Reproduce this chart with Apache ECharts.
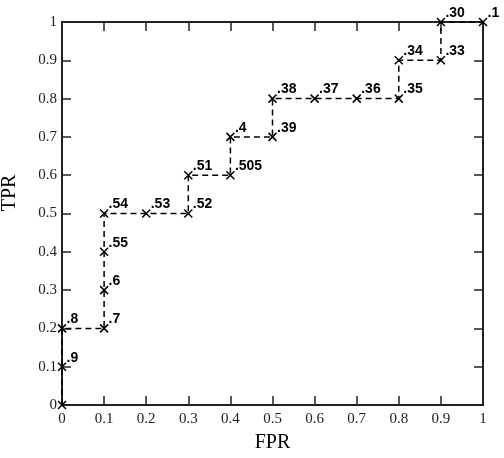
<!DOCTYPE html>
<html lang="en">
<head>
  <meta charset="UTF-8">
  <title>ROC</title>
  <script src="https://cdn.jsdelivr.net/npm/echarts@6/dist/echarts.min.js"></script>
  <style>
    html, body { margin: 0; padding: 0; background: #fff; }
    #chart { width: 504px; height: 458px; }
  </style>
</head>
<body>
  <div id="chart"></div>
  <script>
    // FPR / TPR points and their threshold labels
    const fpr = [0, 0, 0, 0.1, 0.1, 0.1, 0.1, 0.2, 0.3, 0.3, 0.4, 0.4, 0.5, 0.5, 0.6, 0.7, 0.8, 0.8, 0.9, 0.9, 1]
    const tpr = [0, 0.1, 0.2, 0.2, 0.3, 0.4, 0.5, 0.5, 0.5, 0.6, 0.6, 0.7, 0.7, 0.8, 0.8, 0.8, 0.8, 0.9, 0.9, 1, 1]
    const thresholds = ['', '.9', '.8', '.7', '.6', '.55', '.54', '.53', '.52', '.51', '.505', '.4', '.39', '.38', '.37', '.36', '.35', '.34', '.33', '.30', '.1']

    const serif = '"Liberation Serif", "DejaVu Serif", serif'
    const axisColor = '#222'

    let chart = echarts.init(document.getElementById('chart'))

    const points = fpr.map((x, i) => ({ value: [x, tpr[i]], label: { formatter: thresholds[i] } }))

    function axisBase(pos, withLabels) {
      return {
        type: 'value',
        position: pos,
        min: 0,
        max: 1,
        interval: 0.1,
        splitLine: { show: false },
        axisLine: { show: true, onZero: false, lineStyle: { color: axisColor, width: 2 } },
        axisTick: { show: true, inside: true, length: 9, lineStyle: { color: axisColor, width: 1.5 } },
        axisLabel: {
          show: withLabels,
          color: '#222',
          fontFamily: serif,
          fontSize: 15,
          margin: pos == 'bottom' ? 7 : 5
        }
      }
    }

    let xBottom = axisBase('bottom', true)
    xBottom.name = 'FPR'
    xBottom.nameLocation = 'middle'
    xBottom.nameGap = 28
    xBottom.nameTextStyle = { color: '#000', fontFamily: serif, fontSize: 20 }

    let option = {
      animation: false,
      grid: { left: 62, right: 21, top: 22, bottom: 49 },
      xAxis: [xBottom, axisBase('top', false)],
      yAxis: [axisBase('left', true), axisBase('right', false)],
      // TPR sits a bit above the middle of the y axis in the original
      graphic: [
        {
          type: 'text',
          x: 10,
          y: 193,
          rotation: Math.PI / 2,
          style: {
            text: 'TPR',
            fill: '#000',
            font: '20px "Liberation Serif", serif',
            align: 'center',
            verticalAlign: 'middle'
          }
        }
      ],
      series: [
        {
          type: 'line',
          data: points,
          symbol: 'path://M0,0L10,10M10,0L0,10',
          symbolSize: 8,
          lineStyle: { color: '#000', width: 1.5, type: [6, 4] },
          itemStyle: { color: 'none', borderColor: '#000', borderWidth: 1.5 },
          label: {
            show: true,
            position: 'right',
            distance: 0,
            offset: [-2, -9],
            color: '#000',
            fontFamily: '"Liberation Sans", Arial, sans-serif',
            fontWeight: 'bold',
            fontSize: 14
          }
        }
      ]
    }

    chart.setOption(option)
  </script>
</body>
</html>
